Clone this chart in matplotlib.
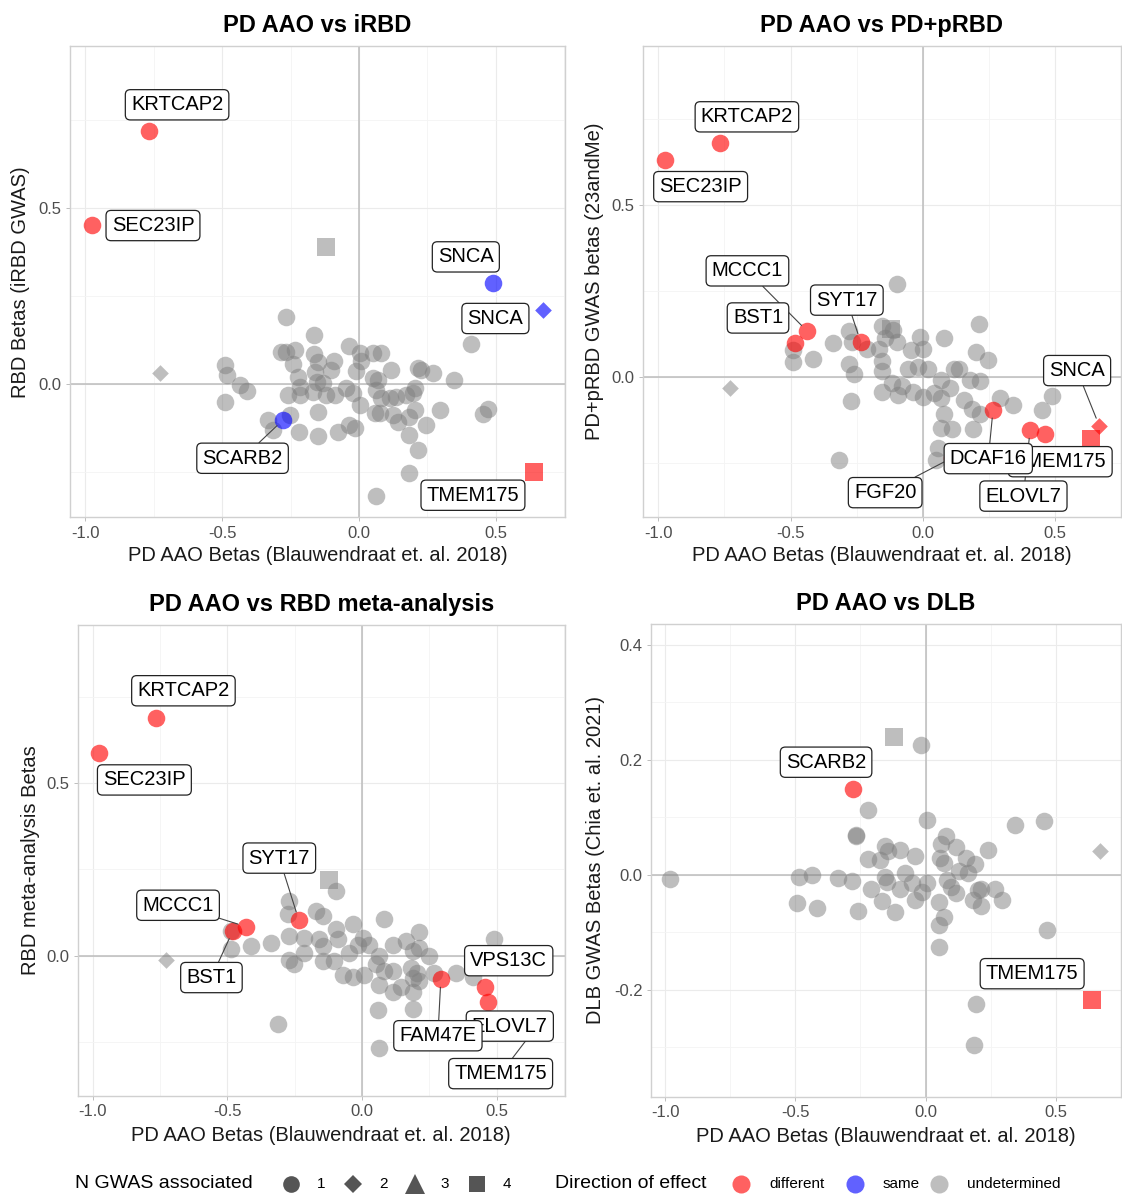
import matplotlib
matplotlib.use('Agg')
import matplotlib.pyplot as plt
from matplotlib.lines import Line2D

plt.rcParams['font.family'] = ['Liberation Sans', 'DejaVu Sans']
plt.rcParams['axes.unicode_minus'] = False

W, H = 1122, 1195

# ---- panel 1: PD AAO vs iRBD ----
p1_gene = ['KRTCAP2', 'SEC23IP', 'SNCA', 'SNCA', 'SCARB2', 'TMEM175', '', '']
p1_x = [-0.765, -0.975, 0.488, 0.670, -0.277, 0.640, -0.119, -0.728]
p1_y = [0.718, 0.451, 0.287, 0.211, -0.102, -0.250, 0.389, 0.030]
p1_n = [1, 1, 1, 2, 1, 4, 4, 2]
p1_dir = ['different', 'different', 'same', 'same', 'same', 'different',
          'undetermined', 'undetermined']
p1_bg_x = [-0.265, -0.164, 0.409, -0.036, -0.283, -0.265, -0.234, -0.164, -0.092, 0.005, 0.051, 0.081,
           -0.489, -0.240, -0.149, 0.008, -0.483, -0.434, -0.410, -0.489, -0.222, -0.216, -0.161, -0.155,
           -0.131, -0.101, -0.010, 0.118, 0.215, 0.227, 0.269, 0.345, 0.051, 0.069, -0.259, -0.216,
           -0.167, -0.119, -0.089, -0.046, -0.022, 0.002, 0.063, 0.081, 0.112, 0.136, 0.172, 0.203,
           0.197, 0.057, 0.075, 0.124, 0.203, 0.184, 0.294, 0.470, 0.454, -0.331, -0.313, -0.252,
           -0.218, -0.149, -0.149, -0.076, -0.036, -0.016, 0.142, 0.245, 0.184, 0.215, 0.184, 0.061]
p1_bg_y = [0.189, 0.139, 0.113, 0.108, 0.092, 0.092, 0.097, 0.085, 0.066, 0.087, 0.087, 0.087,
           0.054, 0.057, 0.061, 0.066, 0.026, -0.003, -0.019, -0.050, 0.021, -0.008, 0.035, 0.007,
           0.002, 0.040, 0.038, 0.040, 0.045, 0.040, 0.030, 0.011, 0.016, 0.011, -0.031, -0.031,
           -0.022, -0.031, -0.031, -0.012, -0.027, -0.060, -0.017, -0.041, -0.041, -0.036, -0.031, -0.012,
           -0.027, -0.083, -0.083, -0.088, -0.074, -0.093, -0.074, -0.072, -0.085, -0.102, -0.131, -0.088,
           -0.136, -0.079, -0.148, -0.136, -0.117, -0.126, -0.107, -0.117, -0.145, -0.188, -0.254, -0.319]

# ---- panel 2: PD AAO vs PD+pRBD ----
p2_gene = ['KRTCAP2', 'SEC23IP', 'MCCC1', 'BST1', 'SYT17', 'DCAF16', 'FGF20', 'ELOVL7',
           'VPS13C', 'TMEM175', 'SNCA', '', '']
p2_x = [-0.765, -0.975, -0.436, -0.483, -0.235, 0.266, 0.110, 0.406, 0.464, 0.637, 0.668, -0.119, -0.728]
p2_y = [0.682, 0.632, 0.133, 0.098, 0.103, -0.095, -0.235, -0.154, -0.164, -0.180, -0.142, 0.140, -0.032]
p2_n = [1, 1, 1, 1, 1, 1, 1, 1, 1, 4, 2, 4, 2]
p2_dir = ['different'] * 11 + ['undetermined', 'undetermined']
p2_bg_x = [-0.097, 0.214, 0.080, -0.012, -0.278, -0.266, -0.338, -0.155, -0.111, -0.142, -0.099, -0.210,
           -0.167, -0.043, 0.000, 0.202, 0.248, -0.415, -0.489, -0.489, -0.278, -0.260, -0.155, -0.155,
           -0.056, -0.019, 0.019, 0.118, 0.136, 0.179, 0.217, -0.118, -0.080, -0.155, -0.093, -0.037,
           0.000, 0.043, 0.068, 0.068, 0.105, 0.155, 0.186, 0.217, 0.291, 0.343, 0.452, 0.489,
           -0.272, 0.080, 0.068, 0.111, 0.192, 0.056, 0.050, -0.316]
p2_bg_y = [0.272, 0.155, 0.115, 0.118, 0.135, 0.103, 0.100, 0.148, 0.138, 0.113, 0.103, 0.083,
           0.083, 0.078, 0.083, 0.073, 0.050, 0.053, 0.078, 0.043, 0.038, 0.008, 0.048, 0.018,
           0.023, 0.028, 0.023, 0.023, 0.023, -0.007, -0.012, -0.017, -0.027, -0.042, -0.052, -0.042,
           -0.057, -0.047, -0.007, -0.062, -0.032, -0.067, -0.092, -0.107, -0.062, -0.082, -0.095, -0.055,
           -0.070, -0.107, -0.147, -0.152, -0.152, -0.207, -0.242, -0.242]

# ---- panel 3: PD AAO vs RBD meta-analysis ----
p3_gene = ['KRTCAP2', 'SEC23IP', 'MCCC1', 'BST1', 'SYT17', 'TMEM175', 'ELOVL7', 'FAM47E',
           'VPS13C', '', '']
p3_x = [-0.765, -0.975, -0.431, -0.480, -0.235, 0.640, 0.467, 0.293, 0.458, -0.121, -0.728]
p3_y = [0.691, 0.588, 0.084, 0.071, 0.104, -0.215, -0.134, -0.068, -0.090, 0.218, -0.012]
p3_n = [1, 1, 1, 1, 1, 4, 1, 1, 1, 4, 2]
p3_dir = ['different'] * 9 + ['undetermined', 'undetermined']
p3_bg_x = [-0.097, -0.270, -0.276, -0.171, -0.146, -0.035, 0.083, 0.213, 0.491, -0.486, -0.486,
           -0.412, -0.338, -0.270, -0.214, -0.158, -0.097, -0.090, -0.146, -0.214, -0.146, -0.103,
           -0.270, -0.252, -0.072, -0.035, 0.009, -0.047, -0.016, 0.002, 0.027, 0.064, 0.114,
           0.163, 0.188, 0.213, 0.250, 0.052, 0.083, 0.064, 0.114, 0.145, 0.182, 0.188,
           0.206, 0.213, 0.268, 0.349, 0.188, 0.188, 0.058, -0.313, 0.062, 0.114, 0.411]
p3_bg_y = [0.186, 0.157, 0.120, 0.130, 0.115, 0.091, 0.106, 0.069, 0.047, 0.071, 0.018,
           0.027, 0.037, 0.057, 0.052, 0.047, 0.076, 0.047, 0.027, 0.008, -0.017, -0.017,
           -0.012, -0.026, -0.056, -0.061, -0.056, 0.008, 0.032, 0.052, 0.032, -0.002, 0.032,
           0.042, 0.013, 0.022, -0.002, -0.026, -0.046, -0.085, -0.105, -0.090, -0.036, -0.066,
           -0.051, -0.075, -0.051, -0.051, -0.105, -0.154, -0.159, -0.200, -0.269, -0.046, -0.061]

# ---- panel 4: PD AAO vs DLB ----
p4_gene = ['SCARB2', 'TMEM175', '', '']
p4_x = [-0.279, 0.640, -0.121, 0.669]
p4_y = [0.150, -0.218, 0.240, 0.041]
p4_n = [1, 4, 4, 2]
p4_dir = ['different', 'different', 'undetermined', 'undetermined']
p4_bg_x = [-0.016, -0.221, 0.004, 0.342, 0.455, -0.269, -0.266, 0.078, 0.058, 0.117, 0.240,
           -0.156, -0.143, -0.097, -0.039, -0.221, -0.175, 0.056, 0.071, 0.156, 0.188, 0.130,
           0.162, -0.981, -0.487, -0.435, -0.338, -0.282, -0.156, -0.149, -0.078, -0.052, 0.006,
           0.084, -0.208, -0.097, -0.013, 0.097, 0.117, 0.201, 0.214, 0.266, 0.182, 0.292,
           0.214, -0.494, -0.416, -0.260, -0.169, -0.117, -0.039, 0.052, 0.069, 0.052, 0.465,
           0.052, 0.192, 0.186]
p4_bg_y = [0.226, 0.112, 0.096, 0.087, 0.094, 0.069, 0.068, 0.068, 0.053, 0.049, 0.044,
           0.050, 0.041, 0.044, 0.032, 0.028, 0.026, 0.029, 0.021, 0.029, 0.019, 0.006,
           0.003, -0.007, -0.004, 0.000, -0.005, -0.010, -0.003, -0.012, 0.003, -0.015, -0.015,
           -0.009, -0.025, -0.025, -0.029, -0.021, -0.032, -0.026, -0.024, -0.024, -0.044, -0.044,
           -0.055, -0.049, -0.058, -0.063, -0.045, -0.065, -0.044, -0.047, -0.074, -0.088, -0.096,
           -0.126, -0.224, -0.296]

# label placement (index into gene list, label x, label y, draw segment), in draw order
p1_labels = [(0, -0.664, 0.793, False), (1, -0.752, 0.450, False), (2, 0.390, 0.361, False),
             (3, 0.498, 0.186, False), (4, -0.425, -0.211, True), (5, 0.416, -0.316, False)]
p2_labels = [(0, -0.665, 0.757, False), (1, -0.840, 0.554, False), (2, -0.663, 0.309, True),
             (3, -0.623, 0.172, False), (4, -0.287, 0.224, True), (10, 0.584, 0.019, True),
             (6, -0.142, -0.336, True), (7, 0.381, -0.346, True), (9, 0.520, -0.246, False),
             (5, 0.248, -0.237, True)]
p3_labels = [(0, -0.663, 0.769, False), (1, -0.808, 0.510, False), (2, -0.683, 0.146, True),
             (3, -0.559, -0.064, True), (4, -0.307, 0.283, True), (8, 0.545, -0.015, False),
             (5, 0.515, -0.343, True), (6, 0.549, -0.205, False), (7, 0.282, -0.233, True)]
p4_labels = [(0, -0.382, 0.196, False), (1, 0.409, -0.172, False)]

SHAPES = {1: 'o', 2: 'D', 3: '^', 4: 's'}
SIZES = {1: 160, 2: 72, 3: 170, 4: 150}
COLORS = {'different': ('#FF0000', 0.62), 'same': ('#0000FF', 0.62),
          'undetermined': ('#7F7F7F', 0.5)}


def px_rect(left, top, right, bottom):
    return [left / W, 1 - bottom / H, (right - left) / W, (bottom - top) / H]


def draw_panel(fig, rect, xlim, ylim, yticks, yminor, title, ylabel, ylab_x, xlab_y,
               bg_x, bg_y, gene, x, y, n, direction, labels):
    ax = fig.add_axes(rect)
    ax.set_xlim(xlim)
    ax.set_ylim(ylim)
    ax.set_xticks([-1.0, -0.5, 0.0, 0.5])
    ax.set_xticklabels(['-1.0', '-0.5', '0.0', '0.5'])
    ax.set_xticks([-0.75, -0.25, 0.25, 0.75], minor=True)
    ax.set_yticks(yticks)
    ax.set_yticklabels([f'{t:.1f}' for t in yticks])
    ax.set_yticks(yminor, minor=True)
    ax.set_axisbelow(True)
    ax.grid(which='major', color='#EBEBEB', lw=0.8)
    ax.grid(which='minor', color='#F4F4F4', lw=0.6)
    ax.tick_params(which='major', length=3, width=0.6, color='#B3B3B3',
                   labelsize=12, labelcolor='#4D4D4D', pad=3)
    ax.tick_params(which='minor', length=0)
    for sp in ax.spines.values():
        sp.set_color('#D0D0D0')
        sp.set_linewidth(1.0)
    ax.axhline(0, color='#BDBDBD', lw=1.1, zorder=1)
    ax.axvline(0, color='#BDBDBD', lw=1.1, zorder=1)

    c, a = COLORS['undetermined']
    ax.scatter(bg_x, bg_y, s=SIZES[1], marker='o', color=c, alpha=a, linewidths=0, zorder=3)
    for i in range(len(gene)):
        c, a = COLORS[direction[i]]
        ax.scatter(x[i], y[i], s=SIZES[n[i]], marker=SHAPES[n[i]], color=c, alpha=a,
                   linewidths=0, zorder=4)

    for k, (i, lx, ly, seg) in enumerate(labels):
        arrow = None
        if seg:
            arrow = dict(arrowstyle='-', color='#444444', lw=0.8, shrinkA=0, shrinkB=6)
        ax.annotate(gene[i], xy=(x[i], y[i]), xytext=(lx, ly), fontsize=14.5,
                    ha='center', va='center', zorder=10 + k, arrowprops=arrow,
                    bbox=dict(boxstyle='round,pad=0.28,rounding_size=0.25',
                              fc='white', ec='#222222', lw=0.9))

    ax.set_title(title, fontsize=17, fontweight='bold', pad=10)
    ax.set_xlabel('PD AAO Betas (Blauwendraat et. al. 2018)', fontsize=14.5, color='#1A1A1A')
    ax.set_ylabel(ylabel, fontsize=14.5, color='#1A1A1A')
    ax.xaxis.set_label_coords(0.5, xlab_y)
    ax.yaxis.set_label_coords(ylab_x, 0.5)
    return ax


fig = plt.figure(figsize=(W / 100, H / 100), dpi=100)

draw_panel(fig, px_rect(69.7, 46, 565, 517.4), (-1.056, 0.752), (-0.379, 0.960),
           [0.0, 0.5], [-0.25, 0.25, 0.75], 'PD AAO vs iRBD', 'RBD Betas (iRBD GWAS)',
           -0.080, -0.061, p1_bg_x, p1_bg_y, p1_gene, p1_x, p1_y, p1_n, p1_dir, p1_labels)
draw_panel(fig, px_rect(643, 46, 1121, 517.4), (-1.058, 0.72), (-0.408, 0.963),
           [0.0, 0.5], [-0.25, 0.25, 0.75], 'PD AAO vs PD+pRBD', 'PD+pRBD GWAS betas (23andMe)',
           -0.082, -0.061, p2_bg_x, p2_bg_y, p2_gene, p2_x, p2_y, p2_n, p2_dir, p2_labels)
draw_panel(fig, px_rect(77.6, 625, 565, 1096), (-1.056, 0.754), (-0.408, 0.960),
           [0.0, 0.5], [-0.25, 0.25, 0.75], 'PD AAO vs RBD meta-analysis', 'RBD meta-analysis Betas',
           -0.077, -0.064, p3_bg_x, p3_bg_y, p3_gene, p3_x, p3_y, p3_n, p3_dir, p3_labels)
draw_panel(fig, px_rect(651, 624, 1121, 1097), (-1.054, 0.712), (-0.3866, 0.4365),
           [-0.2, 0.0, 0.2, 0.4], [-0.3, -0.1, 0.1, 0.3], 'PD AAO vs DLB',
           'DLB GWAS Betas (Chia et. al. 2021)',
           -0.098, -0.064, p4_bg_x, p4_bg_y, p4_gene, p4_x, p4_y, p4_n, p4_dir, p4_labels)

# legend row at the bottom
leg_y = 1 - 1184 / H
fig.text(75 / W, leg_y, 'N GWAS associated', fontsize=14, ha='left', va='center')
shape_keys = [(1, 291, 12), (2, 353, 9), (3, 415, 15), (4, 477, 12)]
for n, xpx, ms in shape_keys:
    fig.add_artist(Line2D([xpx / W], [leg_y], transform=fig.transFigure, ls='',
                          marker=SHAPES[n], markersize=ms, color='#555555', mew=0))
    fig.text((xpx + 30) / W, leg_y, str(n), fontsize=11, ha='center', va='center')

fig.text(555 / W, leg_y, 'Direction of effect', fontsize=14, ha='left', va='center')
dir_keys = [('different', 741), ('same', 855), ('undetermined', 939)]
for name, xpx in dir_keys:
    c, a = COLORS[name]
    fig.add_artist(Line2D([xpx / W], [leg_y], transform=fig.transFigure, ls='',
                          marker='o', markersize=13, color=c, alpha=a, mew=0))
    fig.text((xpx + 28) / W, leg_y, name, fontsize=11, ha='left', va='center')

fig.savefig('out.png', dpi=100)
